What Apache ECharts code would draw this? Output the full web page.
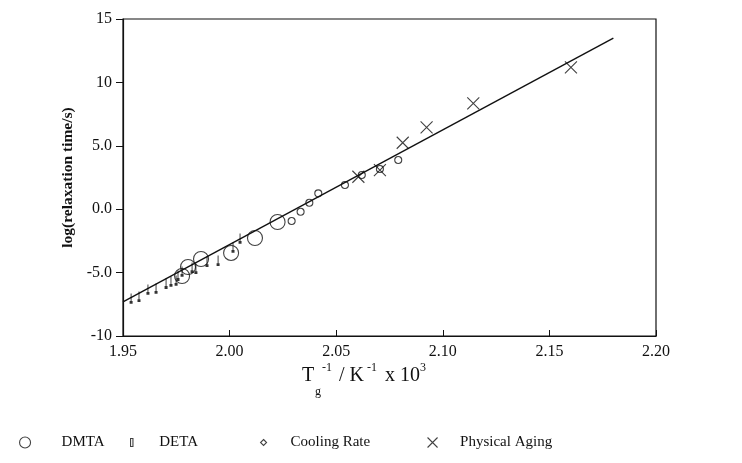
<!DOCTYPE html>
<html>
<head>
<meta charset="utf-8">
<script src="https://cdn.jsdelivr.net/npm/echarts@6/dist/echarts.min.js"></script>
<style>
  html, body { margin: 0; padding: 0; background: #fff; }
  #chart { width: 742px; height: 463px; }
</style>
</head>
<body>
<div id="chart"></div>
<script>
// Reciprocal glass transition temperature (1/K x 10^3) vs log relaxation time
const dmtaX = [1.9777, 1.9805, 1.9866, 2.0007, 2.0119, 2.0225];
const dmtaY = [-5.27, -4.56, -3.93, -3.45, -2.27, -1.01];

const detaX = [1.9538, 1.9575, 1.9617, 1.9655, 1.9702, 1.9725, 1.9749, 1.9758, 1.9777, 1.9824, 1.9842, 1.9894, 1.9946, 2.0016, 2.0049];
const detaY = [-7.0, -6.85, -6.29, -6.21, -5.82, -5.66, -5.58, -5.19, -4.87, -4.56, -4.64, -4.09, -4.01, -2.98, -2.27];

const coolX = [2.0291, 2.0333, 2.0374, 2.0416, 2.0541, 2.0620, 2.0705, 2.0791];
const coolY = [-0.93, -0.20, 0.51, 1.25, 1.91, 2.70, 3.17, 3.88];

const agingX = [2.0604, 2.0705, 2.0812, 2.0924, 2.1143, 2.1601];
const agingY = [2.56, 3.09, 5.24, 6.46, 8.35, 11.19];

// fitted line end points
const fitX = [1.95, 2.18];
const fitY = [-7.3, 13.5];

const xTicks = [1.95, 2.00, 2.05, 2.10, 2.15, 2.20];
const yTickLabels = { '15': '15', '10': '10', '5': '5.0', '0': '0.0', '-5': '-5.0', '-10': '-10' };

const pairs = (xs, ys) => xs.map((x, i) => [x, ys[i]]);

const serif = 'Liberation Serif, DejaVu Serif, serif';
const black = '#111';
const hollow = { color: 'rgba(0,0,0,0)', borderColor: black, borderWidth: 1.1 };
const circlePath = 'path://M10,5A5,5 0 1 1 0,5A5,5 0 1 1 10,5Z';
const diamondPath = 'path://M5,0L10,5L5,10L0,5Z';
const crossPath = 'path://M0,0L10,10M10,0L0,10';
const barPath = 'path://M0,0L3,0L3,10L0,10Z';
const stemPath = 'path://M1,0L1,10M0,10L2,10';

const chart = echarts.init(document.getElementById('chart'), null, { renderer: 'canvas' });

function legendAt(name, left, icon, w, h, pad) {
  return {
    data: [{ name: name, icon: icon, itemStyle: hollow }],
    left: left, top: 430,
    itemWidth: w, itemHeight: h,
    textStyle: { fontFamily: serif, fontSize: 15, color: black, padding: [0, 0, 0, pad] },
    selectedMode: false
  };
}

chart.setOption({
  backgroundColor: '#fff',
  animation: false,
  grid: { left: 123, right: 86, top: 19, bottom: 127, show: true, borderColor: black, borderWidth: 1.2, backgroundColor: 'transparent' },
  xAxis: {
    type: 'value', min: 1.95, max: 2.20, interval: 0.05,
    axisLine: { onZero: false, lineStyle: { color: black, width: 1.2 } },
    axisTick: { inside: true, length: 6, lineStyle: { color: black } },
    splitLine: { show: false },
    axisLabel: { color: black, fontFamily: serif, fontSize: 16, margin: 8,
      formatter: v => xTicks.find(t => Math.abs(t - v) < 1e-6).toFixed(2) }
  },
  yAxis: {
    type: 'value', min: -10, max: 15, interval: 5,
    name: 'log(relaxation time/s)', nameLocation: 'middle', nameGap: 37, nameRotate: 90,
    nameTextStyle: { fontFamily: serif, fontSize: 15.5, fontWeight: 'bold', color: black },
    axisLine: { onZero: false, lineStyle: { color: black, width: 1.2 } },
    axisTick: { inside: false, length: 7, lineStyle: { color: black } },
    splitLine: { show: false },
    axisLabel: { color: black, fontFamily: serif, fontSize: 16, margin: 11,
      formatter: v => yTickLabels[String(Math.round(v))] }
  },
  legend: [
    legendAt('DMTA', 14, circlePath, 11, 11, 26),
    legendAt('DETA', 125, barPath, 5, 8, 20),
    legendAt('Cooling Rate', 255, diamondPath, 6, 8, 19),
    legendAt('Physical Aging', 422, crossPath, 11, 10, 17)
  ],
  series: [
    {
      name: 'fit', type: 'line', data: pairs(fitX, fitY), symbol: 'none',
      lineStyle: { color: black, width: 1.4 }, silent: true, z: 1
    },
    {
      name: 'DMTA', type: 'scatter', data: pairs(dmtaX, dmtaY),
      symbol: circlePath, symbolSize: 15, itemStyle: hollow, z: 3
    },
    {
      name: 'DETA', type: 'scatter', data: pairs(detaX, detaY),
      symbol: stemPath, symbolSize: [3, 9], itemStyle: { color: 'rgba(0,0,0,0)', borderColor: '#000', borderWidth: 1.6 }, z: 3
    },
    {
      name: 'Cooling Rate', type: 'scatter', data: pairs(coolX, coolY),
      symbol: circlePath, symbolSize: 7, itemStyle: hollow, z: 3
    },
    {
      name: 'Physical Aging', type: 'scatter', data: pairs(agingX, agingY),
      symbol: crossPath, symbolSize: 12, itemStyle: hollow, z: 3
    }
  ],
  graphic: [
    {
      type: 'group', left: 302, top: 362,
      children: [
        { type: 'text', x: 0, y: 4, style: { text: 'T', font: '20px ' + serif, fill: black } },
        { type: 'text', x: 13, y: 24, style: { text: 'g', font: '12px ' + serif, fill: black } },
        { type: 'text', x: 20, y: 0, style: { text: '-1', font: '12px ' + serif, fill: black } },
        { type: 'text', x: 37, y: 4, style: { text: '/ K', font: '20px ' + serif, fill: black } },
        { type: 'text', x: 65, y: 0, style: { text: '-1', font: '12px ' + serif, fill: black } },
        { type: 'text', x: 83, y: 4, style: { text: 'x 10', font: '20px ' + serif, fill: black } },
        { type: 'text', x: 118, y: 0, style: { text: '3', font: '12px ' + serif, fill: black } }
      ]
    }
  ]
});
</script>
</body>
</html>
